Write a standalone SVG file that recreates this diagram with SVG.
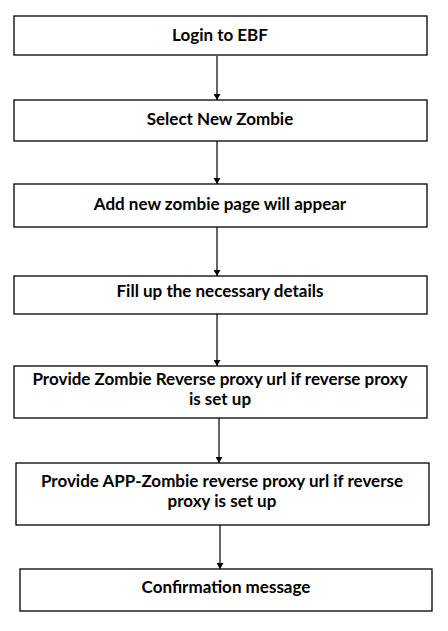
<svg xmlns="http://www.w3.org/2000/svg" width="448" height="631" viewBox="0 0 448 631">
<style>
.box{fill:#fff;stroke:#000;stroke-width:1.3}
.t{font-family:Lato,"Liberation Sans",sans-serif;font-weight:bold;font-size:17px;fill:#000;text-anchor:middle}
.c{stroke:#000;stroke-width:1.2;fill:none;marker-end:url(#ah)}
</style>
<defs>
<marker id="ah" markerWidth="6" markerHeight="7" refX="6" refY="3.5" orient="auto" markerUnits="userSpaceOnUse">
<path d="M0,0 L6,3.5 L0,7 Z" fill="#000"/>
</marker>
</defs>
<rect width="448" height="631" fill="#fff"/>
<g id="connectors">
<line class="c" x1="217" y1="56" x2="217" y2="100"/>
<line class="c" x1="217" y1="141" x2="217" y2="184"/>
<line class="c" x1="217" y1="227" x2="217" y2="276"/>
<line class="c" x1="217" y1="314" x2="217" y2="366"/>
<line class="c" x1="219" y1="418" x2="219" y2="463"/>
<line class="c" x1="220" y1="525" x2="220" y2="569"/>
</g>
<g id="n1"><rect class="box" x="14" y="16" width="413" height="39"/><text class="t" x="220" y="41">Login to EBF</text></g>
<g id="n2"><rect class="box" x="14" y="100" width="413" height="41"/><text class="t" x="220" y="125">Select New Zombie</text></g>
<g id="n3"><rect class="box" x="14" y="184" width="413" height="43"/><text class="t" x="220" y="210">Add new zombie page will appear</text></g>
<g id="n4"><rect class="box" x="14" y="276" width="413" height="38"/><text class="t" x="220" y="297">Fill up the necessary details</text></g>
<g id="n5"><rect class="box" x="14" y="366" width="413" height="52"/><text class="t" x="220" y="385">Provide Zombie Reverse proxy url if reverse proxy</text><text class="t" x="220" y="405">is set up</text></g>
<g id="n6"><rect class="box" x="16" y="463" width="413" height="62"/><text class="t" x="222" y="487">Provide APP-Zombie reverse proxy url if reverse</text><text class="t" x="222" y="507">proxy is set up</text></g>
<g id="n7"><rect class="box" x="20" y="569" width="412" height="42"/><text class="t" x="226" y="593">Confirmation message</text></g>
</svg>
